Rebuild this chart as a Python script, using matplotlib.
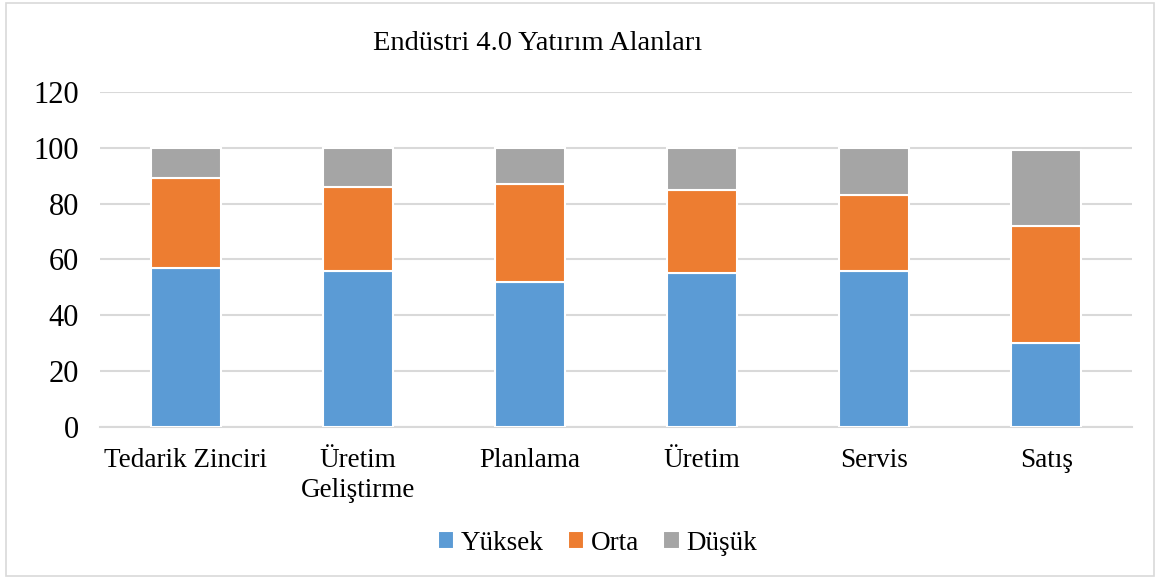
import matplotlib.pyplot as plt
import numpy as np
from matplotlib.patches import Rectangle

# Veriler
kategoriler = ['Tedarik Zinciri', 'Üretim\nGeliştirme', 'Planlama', 'Üretim', 'Servis', 'Satış']
yuksek = [57, 56, 52, 55, 56, 30]
orta = [32, 30, 35, 30, 27, 42]
dusuk = [11, 14, 13, 15, 17, 27]

plt.rcParams['font.family'] = ['Liberation Serif', 'DejaVu Serif']

fig = plt.figure(figsize=(11.6, 5.79), dpi=100)
ax = fig.add_axes([0.086, 0.2625, 0.89, 0.579])

x = np.arange(len(kategoriler))
w = 0.41
alt1 = np.array(yuksek)
alt2 = alt1 + np.array(orta)

ax.bar(x, yuksek, w, color='#5B9BD5', edgecolor='white', linewidth=1.5, label='Yüksek', zorder=3)
ax.bar(x, orta, w, bottom=alt1, color='#ED7D31', edgecolor='white', linewidth=1.5, label='Orta', zorder=3)
ax.bar(x, dusuk, w, bottom=alt2, color='#A5A5A5', edgecolor='white', linewidth=1.5, label='Düşük', zorder=3)

ax.set_xlim(-0.5, len(kategoriler) - 0.5)
ax.set_ylim(0, 120)
ax.set_yticks(range(0, 121, 20))
ax.yaxis.grid(True, color='#d9d9d9', linewidth=1.5, zorder=0)
ax.set_axisbelow(True)
for s in ['top', 'right', 'left']:
    ax.spines[s].set_visible(False)
ax.spines['bottom'].set_color('#d9d9d9')
ax.spines['bottom'].set_linewidth(1.5)
ax.tick_params(axis='y', length=0, labelsize=22, pad=15)
ax.tick_params(axis='x', length=0, labelsize=19.5, pad=15)
ax.set_xticks(x)
ax.set_xticklabels(kategoriler, linespacing=1.25)

fig.text(0.463, 0.925, 'Endüstri 4.0 Yatırım Alanları', ha='center', va='center', fontsize=20.5)

fig.legend(loc='center', bbox_to_anchor=(0.515, 0.062), ncol=3, frameon=False, fontsize=19.5,
           handlelength=0.6, handleheight=0.6, handletextpad=0.25, columnspacing=0.9)

# dış çerçeve
fig.patches.append(Rectangle((0.005, 0.005), 0.99, 0.99, transform=fig.transFigure,
                             fill=False, edgecolor='#d9d9d9', linewidth=1.2))

fig.savefig('out.png', dpi=100)
